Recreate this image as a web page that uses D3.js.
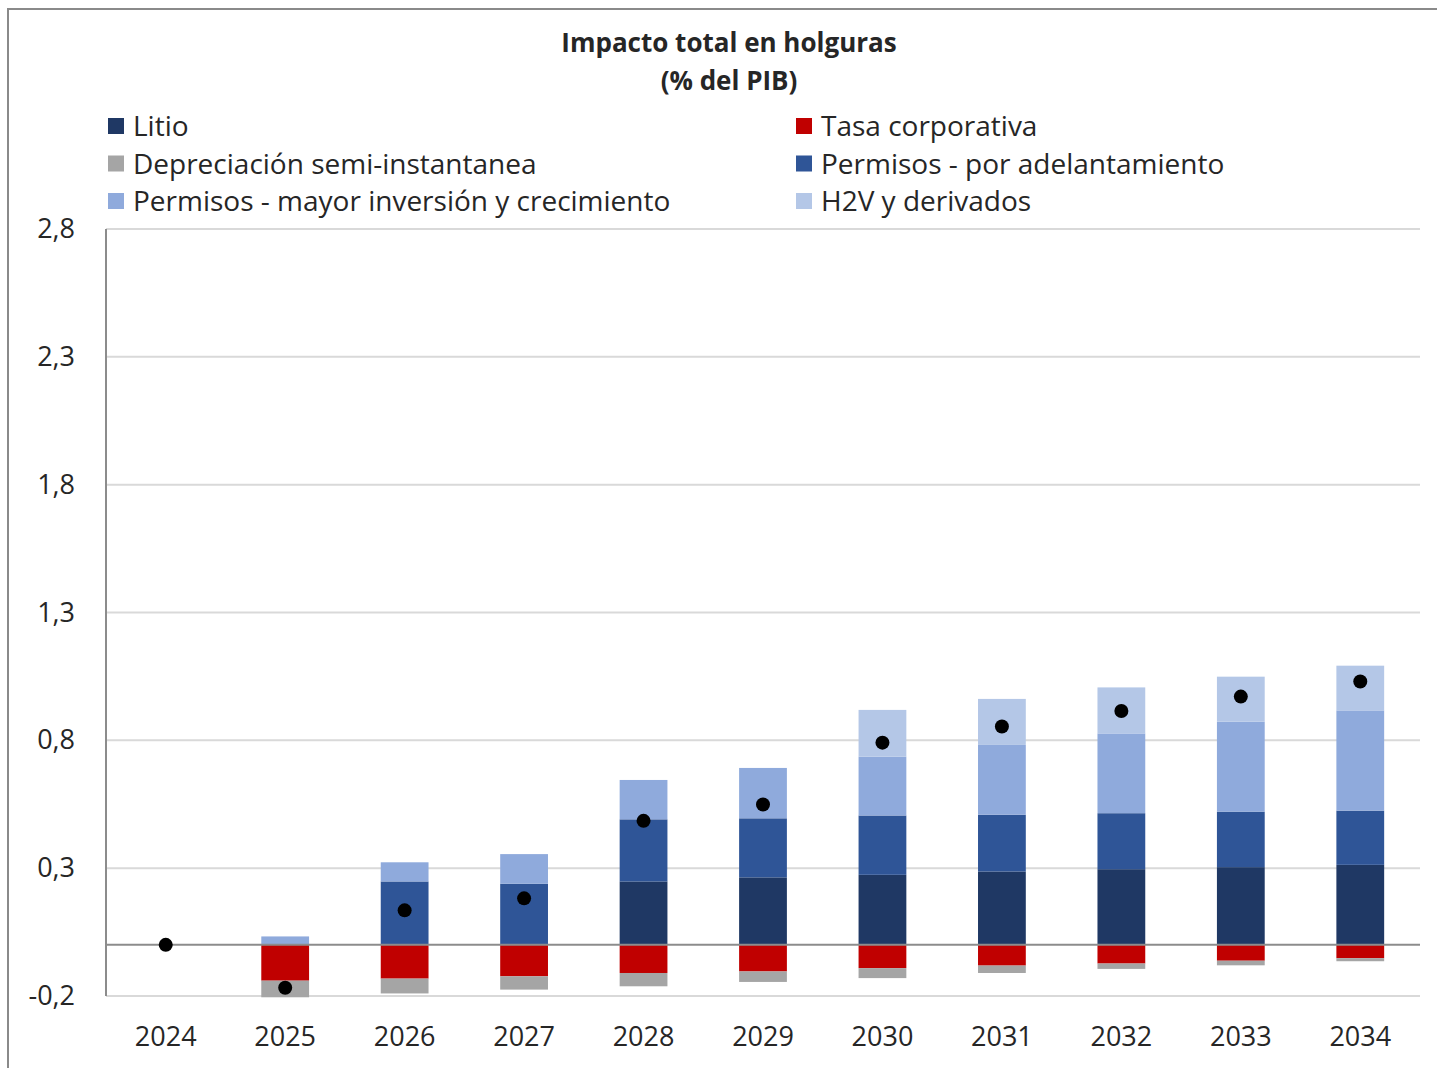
<!DOCTYPE html>
<html><head><meta charset="utf-8">
<script src="https://cdn.jsdelivr.net/npm/d3@7"></script>
<style>body{margin:0;background:#fff}svg{display:block}</style>
</head><body>
<svg id="chart" width="1437" height="1068"></svg>
<script>
const years = ["2024","2025","2026","2027","2028","2029","2030","2031","2032","2033","2034"];
const litio      = [0, 0,     0,     0,     0.248, 0.264, 0.274, 0.287, 0.296, 0.304, 0.313];
const tasa       = [0, -0.140,-0.132,-0.123,-0.110,-0.104,-0.091,-0.081,-0.073,-0.062,-0.052];
const deprec     = [0, -0.065,-0.058,-0.052,-0.052,-0.041,-0.039,-0.029,-0.021,-0.018,-0.012];
const adelanto   = [0, 0,     0.248, 0.239, 0.243, 0.231, 0.232, 0.222, 0.219, 0.217, 0.212];
const mayorInv   = [0, 0.033, 0.075, 0.116, 0.154, 0.197, 0.230, 0.273, 0.312, 0.352, 0.392];
const h2v        = [0, 0,     0,     0,     0,     0,     0.183, 0.180, 0.180, 0.176, 0.175];
const total      = [0, -0.168,0.135, 0.182, 0.485, 0.549, 0.791, 0.854, 0.915, 0.971, 1.030];
const yTicks = [-0.2, 0.3, 0.8, 1.3, 1.8, 2.3, 2.8];
const titleLines = ["Impacto total en holguras", "(% del PIB)"];

const series = [
  {name:"Litio", values:litio, color:"#1F3864"},
  {name:"Tasa corporativa", values:tasa, color:"#C00000"},
  {name:"Depreciación semi-instantanea", values:deprec, color:"#A5A5A5"},
  {name:"Permisos - por adelantamiento", values:adelanto, color:"#2F5597"},
  {name:"Permisos - mayor inversión y crecimiento", values:mayorInv, color:"#8FAADC"},
  {name:"H2V y derivados", values:h2v, color:"#B4C7E7"}
];
const stackOrder = ["Litio","Permisos - por adelantamiento","Permisos - mayor inversión y crecimiento","H2V y derivados","Tasa corporativa","Depreciación semi-instantanea"];

const svg = d3.select("#chart");
const FONT = "'Open Sans', Lato, sans-serif";

// outer frame
svg.append("rect").attr("x",8).attr("y",9).attr("width",1460).attr("height",1100)
  .attr("fill","none").attr("stroke","#8a8a8a").attr("stroke-width",2);

const left = 106, right = 1420;
const x = d3.scaleBand().domain(years).range([left, right]).paddingInner(0.6).paddingOuter(0.3);
const y = d3.scaleLinear().domain([-0.2, 2.8]).range([996, 229]);

// gridlines
svg.append("g").selectAll("line").data(yTicks).join("line")
  .attr("x1", left).attr("x2", right).attr("y1", d=>y(d)).attr("y2", d=>y(d))
  .attr("stroke","#D9D9D9").attr("stroke-width",2);

// y axis labels
const yAxis = d3.axisLeft(y).tickValues(yTicks).tickSize(0).tickPadding(31)
  .tickFormat(d => d3.format(".1f")(d).replace(".", ",").replace("\u2212","-"));
const gy = svg.append("g").attr("transform",`translate(${left},0)`).call(yAxis);
gy.select(".domain").remove();
gy.selectAll("text").attr("font-family",FONT).attr("font-size",27).attr("fill","#262626");

// stacked bars
const barsG = svg.append("g");
years.forEach((yr, i) => {
  let pos = 0, neg = 0;
  stackOrder.forEach(nm => {
    const s = series.find(d=>d.name===nm);
    const v = s.values[i];
    if (!v) return;
    let y0, y1;
    if (v >= 0) { y0 = pos; y1 = pos + v; pos = y1; }
    else { y0 = neg; y1 = neg + v; neg = y1; }
    barsG.append("rect")
      .attr("x", x(yr)).attr("width", x.bandwidth())
      .attr("y", y(Math.max(y0,y1))).attr("height", Math.abs(y(y0)-y(y1)))
      .attr("fill", s.color);
  });
});

// zero line
svg.append("line").attr("x1",left).attr("x2",right).attr("y1",y(0)).attr("y2",y(0))
  .attr("stroke","#8C8C8C").attr("stroke-width",2);
// left axis line
svg.append("line").attr("x1",left).attr("x2",left).attr("y1",y(2.8)).attr("y2",y(-0.2))
  .attr("stroke","#8C8C8C").attr("stroke-width",2);

// total dots
svg.append("g").selectAll("circle").data(years).join("circle")
  .attr("cx", d=>x(d)+x.bandwidth()/2).attr("cy",(d,i)=>y(total[i])).attr("r",7).attr("fill","#000");

// x axis labels
const xAxis = d3.axisBottom(x).tickSize(0).tickPadding(31);
const gx = svg.append("g").attr("transform",`translate(0,${y(-0.2)})`).call(xAxis);
gx.select(".domain").remove();
gx.selectAll("text").attr("font-family",FONT).attr("font-size",27).attr("fill","#262626");

// title
svg.append("g").selectAll("text").data(titleLines).join("text")
  .attr("x",729).attr("y",(d,i)=>52+i*38).attr("text-anchor","middle")
  .attr("font-family",FONT).attr("font-weight","bold").attr("font-size",26).attr("fill","#262626")
  .text(d=>d);

// legend
const legendOrder = ["Litio","Tasa corporativa","Depreciación semi-instantanea","Permisos - por adelantamiento","Permisos - mayor inversión y crecimiento","H2V y derivados"];
const lg = svg.append("g");
legendOrder.forEach((nm,k)=>{
  const s = series.find(d=>d.name===nm);
  const col = k%2, row = Math.floor(k/2);
  const lx = col===0 ? 108 : 796, ly = 126 + row*37.5;
  lg.append("rect").attr("x",lx).attr("y",ly-8).attr("width",16).attr("height",16).attr("fill",s.color);
  lg.append("text").attr("x",lx+25).attr("y",ly+10).attr("font-family",FONT).attr("font-size",28)
    .attr("fill","#262626").text(nm);
});
</script>
</body></html>
